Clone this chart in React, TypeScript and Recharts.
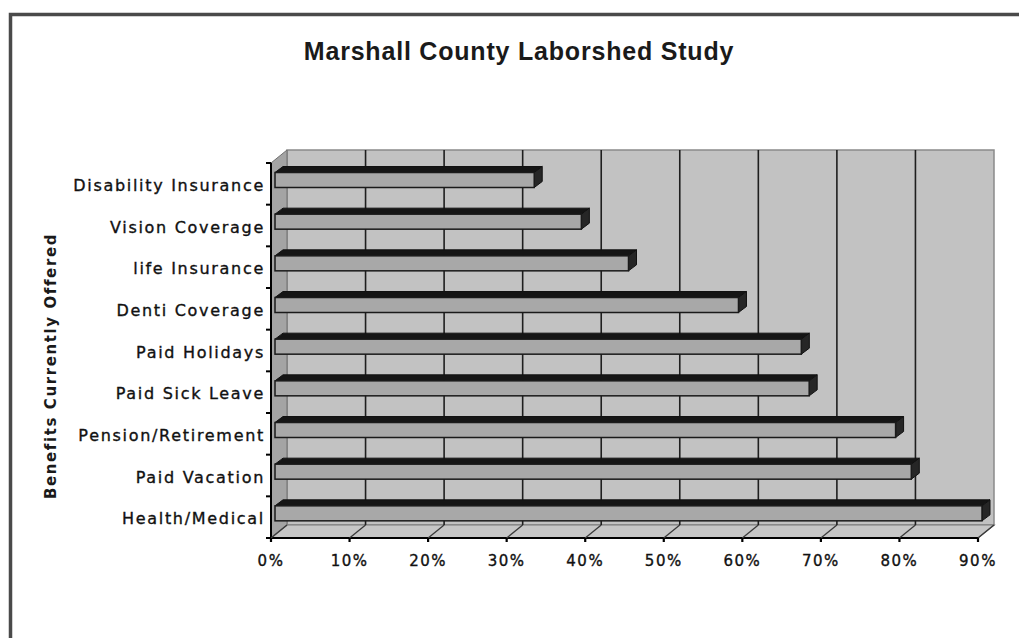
import React from 'react';
import { BarChart, Bar, XAxis, YAxis, CartesianGrid } from 'recharts';

// ---------- data ----------
const categories = [
  'Disability Insurance',
  'Vision Coverage',
  'life Insurance',
  'Denti Coverage',
  'Paid Holidays',
  'Paid Sick Leave',
  'Pension/Retirement',
  'Paid Vacation',
  'Health/Medical',
];
const offeredPercent = [33, 39, 45, 59, 67, 68, 79, 81, 90];
const xTicks = [0, 10, 20, 30, 40, 50, 60, 70, 80, 90];
const xTickLabels = ['0%', '10%', '20%', '30%', '40%', '50%', '60%', '70%', '80%', '90%'];
const chartTitle = 'Marshall County Laborshed Study';
const yAxisTitle = 'Benefits Currently Offered';

const data = categories.map((name, i) => ({ name, value: offeredPercent[i] }));

// ---------- layout ----------
const W = 1019;
const H = 638;
const PLOT = { left: 279, right: 986, top: 156.5, bottom: 531.5 };
const DX = 8; // half depth of 3D box (x)
const DY = 6.5; // half depth of 3D box (y)
const BX = 4; // half depth of bar (x)
const BY = 3; // half depth of bar (y)
const AXIS_W = 1;
const AXIS_H = 1;
const LABEL_FONT = '"DejaVu Sans", Verdana, sans-serif';

const gridGen = ({ xAxis, offset }: any) => {
  const s = xAxis && xAxis.scale;
  const f =
    typeof s === 'function'
      ? (v: number) => s(v)
      : s && typeof s.map === 'function'
      ? (v: number) => s.map(v)
      : (v: number) => offset.left + (offset.width * v) / xTicks[xTicks.length - 1];
  return xTicks.slice(1, -1).map((v) => f(v) + DX);
};

function FloorTick(props: any) {
  const { x, payload } = props;
  const idx = xTicks.indexOf(payload.value);
  const fx = x - DX;
  const fy = PLOT.bottom + DY;
  return (
    <g>
      <line x1={fx} y1={fy} x2={x + DX} y2={PLOT.bottom - DY} stroke="#3a3a3a" strokeWidth={1.3} />
      <line x1={fx} y1={fy} x2={fx} y2={fy + 4} stroke="#000" strokeWidth={2.2} />
      <text
        x={fx}
        y={fy + 27.5}
        textAnchor="middle"
        fontFamily={LABEL_FONT}
        fontSize={15}
        letterSpacing={1.5}
        fill="#111"
        stroke="#111"
        strokeWidth={0.35}
      >
        {idx >= 0 ? xTickLabels[idx] : payload.value}
      </text>
    </g>
  );
}

function CatTick(props: any) {
  const { y, payload, index } = props;
  const band = (PLOT.bottom - PLOT.top) / categories.length;
  const axisX = PLOT.left - DX;
  const yb = y + band / 2 + DY;
  const yt = y - band / 2 + DY;
  return (
    <g>
      <line x1={axisX - 5} y1={yb} x2={axisX} y2={yb} stroke="#000" strokeWidth={2} />
      {index === 0 && <line x1={axisX - 5} y1={yt} x2={axisX} y2={yt} stroke="#000" strokeWidth={2} />}
      <text
        x={axisX - 6}
        y={y + 13.5}
        textAnchor="end"
        fontFamily={LABEL_FONT}
        fontSize={16}
        letterSpacing={1.7}
        fill="#111"
        stroke="#111"
        strokeWidth={0.35}
      >
        {payload.value}
      </text>
    </g>
  );
}

function Bar3D(props: any) {
  const { x, y, width, height } = props;
  if (width == null || !(width > 0)) return null;
  const fx = x - BX;
  const fy = y + BY;
  const bx = x + BX;
  const by = y - BY;
  const w = width;
  const h = height;
  return (
    <g>
      <polygon
        points={`${fx},${fy} ${bx},${by} ${bx + w},${by} ${fx + w},${fy}`}
        fill="#151515"
        stroke="#111"
        strokeWidth={1}
      />
      <polygon
        points={`${fx + w},${fy} ${bx + w},${by} ${bx + w},${by + h} ${fx + w},${fy + h}`}
        fill="#262626"
        stroke="#111"
        strokeWidth={1}
      />
      <rect x={fx} y={fy} width={w} height={h} fill="#a8a8a8" stroke="#1a1a1a" strokeWidth={1.5} />
    </g>
  );
}

function Background() {
  const bl = PLOT.left + DX;
  const br = PLOT.right + DX;
  const bt = PLOT.top - DY;
  const bb = PLOT.bottom - DY;
  const fl = PLOT.left - DX;
  const fr = PLOT.right - DX;
  const ft = PLOT.top + DY;
  const fb = PLOT.bottom + DY;
  return (
    <svg width={W} height={H} style={{ position: 'absolute', left: 0, top: 0 }}>
      <rect x={0} y={0} width={W} height={H} fill="#ffffff" />
      <path d={`M10.5 ${H} V14.5 H${W}`} stroke="#4a4a4a" strokeWidth={3.5} fill="none" />
      <text
        x={519}
        y={60}
        textAnchor="middle"
        fontFamily='"Liberation Sans", Arial, sans-serif'
        fontWeight="bold"
        fontSize={25}
        letterSpacing={0.8}
        fill="#1a1a1a"
      >
        {chartTitle}
      </text>
      <text
        transform="translate(56,366) rotate(-90)"
        textAnchor="middle"
        fontFamily={LABEL_FONT}
        fontWeight="bold"
        fontSize={15}
        letterSpacing={1.6}
        fill="#1a1a1a"
      >
        {yAxisTitle}
      </text>
      {/* back wall */}
      <rect x={bl} y={bt} width={br - bl} height={bb - bt} fill="#c2c2c2" stroke="#8a8a8a" strokeWidth={1.5} />
      {/* side wall */}
      <polygon points={`${fl},${ft} ${bl},${bt} ${bl},${bb} ${fl},${fb}`} fill="#a4a4a4" stroke="#707070" strokeWidth={1} />
      {/* floor */}
      <polygon points={`${fl},${fb} ${fr},${fb} ${br},${bb} ${bl},${bb}`} fill="#c6c6c6" stroke="#7a7a7a" strokeWidth={1.2} />
      {/* axis lines */}
      <line x1={fl} y1={ft} x2={fl} y2={fb} stroke="#000" strokeWidth={2} />
      <line x1={fl} y1={fb} x2={fr} y2={fb} stroke="#000" strokeWidth={2.2} />
    </svg>
  );
}

export default function App() {
  return (
    <div style={{ position: 'absolute', left: 0, top: 0, width: W, height: H, background: '#fff' }}>
      <Background />
      <div style={{ position: 'absolute', left: 0, top: 0 }}>
        <BarChart
          width={W}
          height={H}
          data={data}
          layout="vertical"
          barSize={15}
          margin={{
            left: PLOT.left - AXIS_W,
            right: W - PLOT.right,
            top: PLOT.top,
            bottom: H - PLOT.bottom - AXIS_H,
          }}
        >
          <CartesianGrid
            horizontal={false}
            vertical={true}
            verticalCoordinatesGenerator={gridGen}
            y={PLOT.top - DY}
            height={PLOT.bottom - PLOT.top}
            stroke="#1e1e1e"
            strokeWidth={1.6}
            fill="none"
          />
          <XAxis
            type="number"
            domain={[xTicks[0], xTicks[xTicks.length - 1]]}
            ticks={xTicks}
            interval={0}
            height={AXIS_H}
            axisLine={false}
            tickLine={false}
            tick={(p: any) => <FloorTick {...p} />}
          />
          <YAxis
            type="category"
            dataKey="name"
            width={AXIS_W}
            interval={0}
            axisLine={false}
            tickLine={false}
            tick={(p: any) => <CatTick {...p} />}
          />
          <Bar dataKey="value" isAnimationActive={false} shape={(p: any) => <Bar3D {...p} />} />
        </BarChart>
      </div>
    </div>
  );
}
